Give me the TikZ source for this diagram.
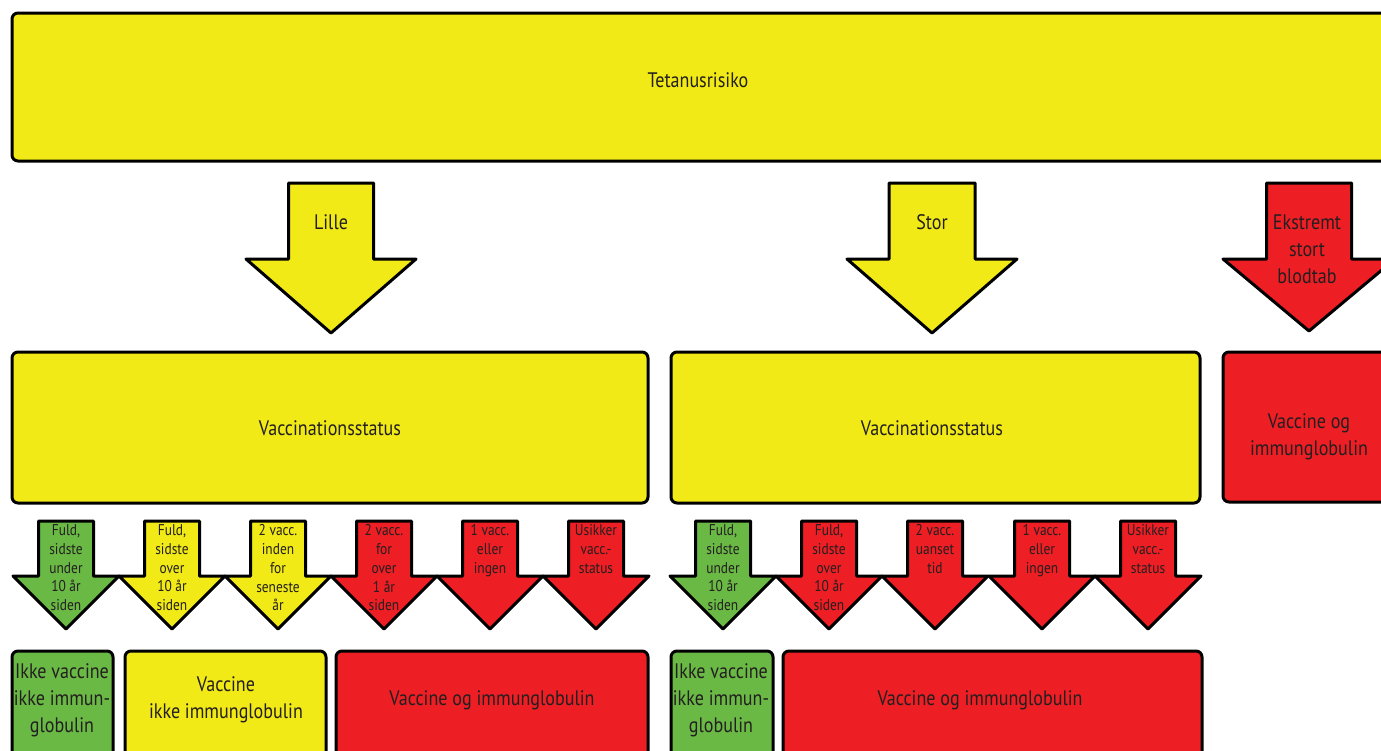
\documentclass[tikz,border=0pt]{standalone}
\usepackage{fontspec}
\setmainfont{PT Sans}[FakeStretch=0.86]
\usetikzlibrary{calc}
\definecolor{gul}{RGB}{241,234,22}
\definecolor{roed}{RGB}{237,30,36}
\definecolor{groen}{RGB}{106,185,69}
\definecolor{skrift}{RGB}{35,31,32}
% colour, x, top, head, tip, shaft half width, head half width
\newcommand\pil[7]{\filldraw[fill=#1](#2-#6,#3)--(#2+#6,#3)--(#2+#6,#4)--(#2+#7,#4)
   --(#2,#5)--(#2-#7,#4)--(#2-#6,#4)--cycle;}
\newcommand\lillepil[2]{\pil{#1}{#2}{521}{576}{629}{27.5}{53}}
\begin{document}
\begin{tikzpicture}[x=0.5pt,y=-0.5pt,line width=1.5pt,line join=round,
      every node/.style={text=skrift,inner sep=0pt,align=center},
      tekst/.style={font=\fontsize{10.5}{13.6}\selectfont},
      lilletekst/.style={font=\fontsize{7.8}{9.4}\selectfont,anchor=north}]
   \useasboundingbox(0,0)rectangle(1381,750);
   \clip(0,0)rectangle(1381,750);
   % top
   \filldraw[fill=gul,rounded corners=3pt](12,13)rectangle(1400,161);
   \node[tekst](risiko)at(698,80){Tetanusrisiko};
   % big arrows
   \pil{gul}{331}{183}{259}{333}{42.5}{85}
   \pil{gul}{932}{183}{259}{333}{43}{85}
   \pil{roed}{1309}{183}{259}{331}{42.5}{86}
   \node[tekst](lille)at(331,222){Lille};
   \node[tekst](stor)at(932,222){Stor};
   \node[tekst](blodtab)at(1307,249){Ekstremt\\stort\\blodtab};
   % middle row
   \filldraw[fill=gul,rounded corners=3pt](12,352)rectangle(648,503);
   \filldraw[fill=gul,rounded corners=3pt](671,352)rectangle(1200,503);
   \filldraw[fill=roed,rounded corners=3pt](1223,352)rectangle(1400,502);
   \node[tekst](statuslille)at(330,428){Vaccinationsstatus};
   \node[tekst](statusstor)at(932,428){Vaccinationsstatus};
   \node[tekst](ekstremt)at(1309,437){Vaccine og\\immunglobulin};
   % small arrows
   \lillepil{groen}{66}\lillepil{gul}{172}\lillepil{gul}{278}
   \lillepil{roed}{384}\lillepil{roed}{490}\lillepil{roed}{596}
   \lillepil{groen}{723}\lillepil{roed}{829}\lillepil{roed}{935}
   \lillepil{roed}{1042}\lillepil{roed}{1148}
   \node[lilletekst](l1)at(66,523){Fuld,\\sidste\\under\\10 år\\siden};
   \node[lilletekst](l2)at(172,523){Fuld,\\sidste\\over\\10 år\\siden};
   \node[lilletekst](l3)at(278,523){2 vacc.\\inden\\for\\seneste\\år};
   \node[lilletekst](l4)at(384,523){2 vacc.\\for\\over\\1 år\\siden};
   \node[lilletekst](l5)at(490,523){1 vacc.\\eller\\ingen};
   \node[lilletekst](l6)at(596,523){Usikker\\vacc.-\\status};
   \node[lilletekst](s1)at(723,523){Fuld,\\sidste\\under\\10 år\\siden};
   \node[lilletekst](s2)at(829,523){Fuld,\\sidste\\over\\10 år\\siden};
   \node[lilletekst](s3)at(935,523){2 vacc.\\uanset\\tid};
   \node[lilletekst](s4)at(1042,523){1 vacc.\\eller\\ingen};
   \node[lilletekst](s5)at(1148,523){Usikker\\vacc.-\\status};
   % bottom row
   \filldraw[fill=groen,rounded corners=3pt](12,651)rectangle(113,800);
   \filldraw[fill=gul,rounded corners=3pt](125,651)rectangle(326,800);
   \filldraw[fill=roed,rounded corners=3pt](336,651)rectangle(648,800);
   \filldraw[fill=groen,rounded corners=3pt](671,651)rectangle(773,800);
   \filldraw[fill=roed,rounded corners=3pt](783,651)rectangle(1202,800);
   \node[tekst](ikke1)at(62,700){Ikke vaccine\\ikke immun-\\globulin};
   \node[tekst](vaccine)at(226,700){Vaccine\\ikke immunglobulin};
   \node[tekst](begge1)at(492,700){Vaccine og immunglobulin};
   \node[tekst](ikke2)at(721,700){Ikke vaccine\\ikke immun-\\globulin};
   \node[tekst](begge2)at(980,700){Vaccine og immunglobulin};
\end{tikzpicture}
\end{document}
